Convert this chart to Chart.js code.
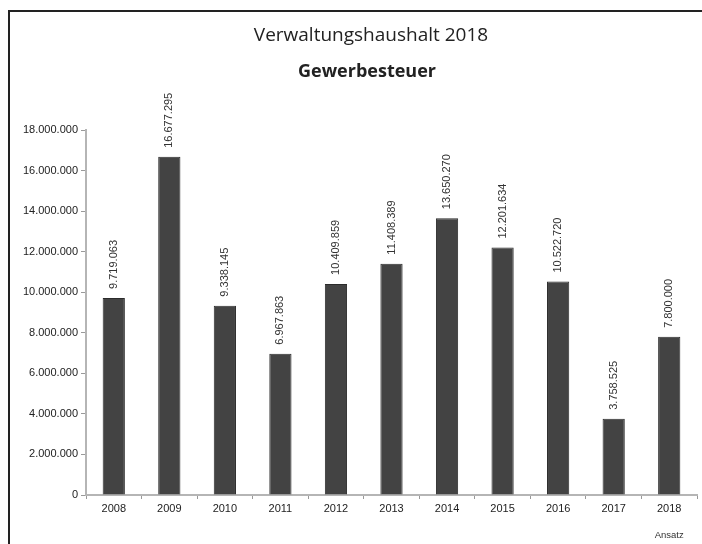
<!DOCTYPE html>
<html lang="de">
<head>
  <meta charset="UTF-8">
  <title>Verwaltungshaushalt 2018 - Gewerbesteuer</title>
  <script src="https://cdn.jsdelivr.net/npm/chart.js"></script>
  <style>
    body { margin: 0; background: #fff; }
    #wrap { position: relative; width: 702px; height: 544px; }
    #frame {
      position: absolute; left: 8px; top: 10px; width: 700px; height: 540px;
      border-left: 2px solid #222; border-top: 2px solid #222;
    }
    canvas { position: absolute; left: 0; top: 0; }
  </style>
</head>
<body>
  <div id="wrap">
    <div id="frame"></div>
    <canvas id="chart" width="702" height="544"></canvas>
  </div>

  <script>
    // Werte aus der Grafik
    const years = ['2008', '2009', '2010', '2011', '2012', '2013', '2014', '2015', '2016', '2017', '2018'];
    const amounts = [9719063, 16677295, 9338145, 6967863, 10409859, 11408389, 13650270, 12201634, 10522720, 3758525, 7800000];
    const yTicks = [0, 2000000, 4000000, 6000000, 8000000, 10000000, 12000000, 14000000, 16000000, 18000000];
    const titleText = 'Verwaltungshaushalt 2018';
    const subtitleText = 'Gewerbesteuer';
    const noteText = 'Ansatz';

    // 1234567 -> 1.234.567
    function fmt(v) {
      return String(v).replace(/\B(?=(\d{3})+(?!\d))/g, '.');
    }

    const smallFont = '"Liberation Sans", Arial, sans-serif';

    const extras = {
      id: 'extras',
      afterDraw(chart) {
        const ctx = chart.ctx;
        const x = chart.scales.x;
        ctx.save();

        // Titel
        ctx.fillStyle = '#222';
        ctx.textAlign = 'center';
        ctx.textBaseline = 'middle';
        ctx.font = '19px "Open Sans", sans-serif';
        ctx.fillText(titleText, 371, 36);
        ctx.font = 'bold 18px "Open Sans", sans-serif';
        ctx.fillText(subtitleText, 367, 72);

        // Werte über den Balken, senkrecht
        ctx.font = '11px ' + smallFont;
        ctx.fillStyle = '#333';
        const meta = chart.getDatasetMeta(0);
        meta.data.forEach((bar, i) => {
          ctx.save();
          ctx.translate(bar.x, bar.y - 9);
          ctx.rotate(-Math.PI / 2);
          ctx.textAlign = 'left';
          ctx.textBaseline = 'middle';
          ctx.fillText(fmt(amounts[i]), 0, 0);
          ctx.restore();
        });

        // "Ansatz" unter 2018
        ctx.textAlign = 'center';
        ctx.textBaseline = 'middle';
        ctx.font = '9.5px ' + smallFont;
        ctx.fillText(noteText, x.getPixelForValue(years.length - 1), 535);
        ctx.restore();
      }
    };

    new Chart(document.getElementById('chart'), {
      type: 'bar',
      data: {
        labels: years,
        datasets: [{
          data: amounts,
          backgroundColor: '#434343',
          borderColor: '#2b2b2b',
          borderWidth: 1,
          barPercentage: 0.8,
          categoryPercentage: 0.5
        }]
      },
      options: {
        responsive: false,
        animation: false,
        layout: { padding: { left: 0, right: 5, top: 130, bottom: 0 } },
        plugins: {
          legend: { display: false },
          tooltip: { enabled: false }
        },
        scales: {
          x: {
            grid: {
              display: true,
              drawOnChartArea: false,
              offset: true,
              tickLength: 4,
              color: '#999'
            },
            border: { color: '#b5b5b5', width: 2 },
            ticks: {
              color: '#222',
              font: { size: 11, family: smallFont },
              padding: 3,
              maxRotation: 0
            },
            afterFit(scale) { scale.height = 49; }
          },
          y: {
            min: 0,
            max: 18000000,
            afterBuildTicks(scale) {
              scale.ticks = yTicks.map(v => ({ value: v }));
            },
            grid: {
              display: true,
              drawOnChartArea: false,
              tickLength: 5,
              color: '#999'
            },
            border: { color: '#b5b5b5', width: 2 },
            ticks: {
              color: '#222',
              font: { size: 11, family: smallFont },
              padding: 3,
              callback: v => fmt(v)
            },
            afterFit(scale) { scale.width = 86; }
          }
        }
      },
      plugins: [extras]
    });
  </script>
</body>
</html>
